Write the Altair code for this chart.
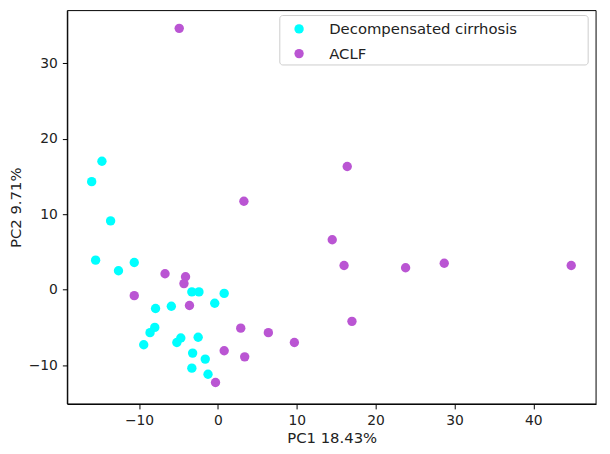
import altair as alt
import pandas as pd

# Decompensated cirrhosis (cyan)
dc_pc1 = [-14.7, -16.0, -13.6, -15.5, -12.6, -10.6, -3.3, -2.4, 0.8, -0.4, -5.9,
          -7.9, -8.0, -8.6, -9.4, -4.7, -5.2, -2.5, -3.2, -1.6, -3.3, -1.25]
dc_pc2 = [17.0, 14.3, 9.1, 3.9, 2.5, 3.6, -0.3, -0.3, -0.5, -1.8, -2.2,
          -2.5, -5.0, -5.7, -7.3, -6.4, -7.0, -6.3, -8.4, -9.2, -10.4, -11.2]

# ACLF (purple)
aclf_pc1 = [-4.9, 3.3, -6.7, -4.1, -4.3, -10.6, -3.6, -0.3, 2.9, 6.4, 9.7,
            0.8, 3.4, 14.5, 16.0, 23.8, 28.7, 44.8, 17.0, 16.4]
aclf_pc2 = [34.6, 11.7, 2.1, 1.7, 0.8, -0.8, -2.1, -12.3, -5.1, -5.7, -7.0,
            -8.1, -8.9, 6.6, 3.2, 2.9, 3.5, 3.2, -4.2, 16.3]

groups = ["Decompensated cirrhosis", "ACLF"]
colors = ["#00ffff", "#ba55d3"]
x_ticks = [-10, 0, 10, 20, 30, 40]
y_ticks = [-10, 0, 10, 20, 30]

df = pd.DataFrame({
    "PC1": dc_pc1 + aclf_pc1,
    "PC2": dc_pc2 + aclf_pc2,
    "group": [groups[0]] * len(dc_pc1) + [groups[1]] * len(aclf_pc1),
})

FONT = "DejaVu Sans"
W, H = 535, 398

legend_box = alt.Chart(alt.Data(values=[{}])).mark_rect(
    fill="white", stroke="#cccccc", strokeWidth=1, cornerRadius=3
).encode(
    x=alt.value(215), x2=alt.value(527), y=alt.value(5), y2=alt.value(55)
)

frame = alt.Chart(alt.Data(values=[{}])).mark_rect(
    fill=None, fillOpacity=0, stroke="black", strokeWidth=1
).encode(
    x=alt.value(0), x2=alt.value(W), y=alt.value(0), y2=alt.value(H)
)

points = alt.Chart(df).mark_circle(size=90, opacity=1).encode(
    x=alt.X("PC1:Q",
            scale=alt.Scale(domain=[-19.09, 47.95], nice=False, zero=False),
            axis=alt.Axis(title="PC1 18.43%", values=x_ticks, grid=False,
                          titlePadding=3)),
    y=alt.Y("PC2:Q",
            scale=alt.Scale(domain=[-15.14, 36.95], nice=False, zero=False),
            axis=alt.Axis(title="PC2 9.71%", values=y_ticks, grid=False,
                          titlePadding=5)),
    color=alt.Color("group:N",
                    scale=alt.Scale(domain=groups, range=colors),
                    legend=alt.Legend(title=None, orient="none",
                                      legendX=227, legendY=11,
                                      padding=0, rowPadding=9,
                                      labelOffset=23, symbolSize=90,
                                      symbolType="circle", labelLimit=400,
                                      labelFontSize=15, labelFont=FONT,
                                      labelColor="#222222")),
)

chart = alt.layer(legend_box, points, frame).properties(
    width=W, height=H,
    autosize=alt.AutoSizeParams(type="none"),
    padding={"left": 60, "top": 0, "right": 6, "bottom": 48},
).configure_view(
    stroke=None
).configure_axis(
    domainColor="black", tickColor="black", tickSize=5, labelPadding=5,
    labelFont=FONT, labelFontSize=14, labelColor="#222222",
    titleFont=FONT, titleFontSize=15, titleFontWeight="normal", titleColor="#222222",
    labelFlush=False,
)

chart.save("out.html", embed_options={"renderer": "svg", "actions": False})
